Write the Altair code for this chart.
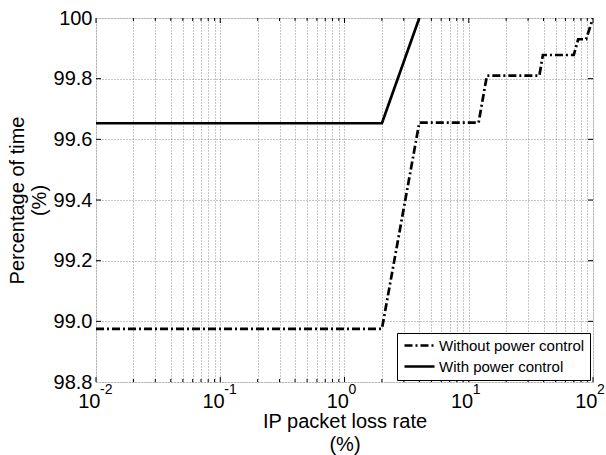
import altair as alt
import pandas as pd

FONT = "Liberation Sans"

# ---- data ----
series_names = ["Without power control", "With power control"]
x_without = [0.01, 2.0, 4.0, 12.0, 14.0, 37.0, 39.5, 70.0, 76.0, 88.0, 100.0]
y_without = [98.975, 98.975, 99.655, 99.655, 99.81, 99.81, 99.878, 99.878, 99.93, 99.93, 100.0]
x_with = [0.01, 2.0, 4.0]
y_with = [99.653, 99.653, 100.0]

major_x = [0.01, 0.1, 1, 10, 100]
exponents = ["-2", "-1", "0", "1", "2"]
minor_x = [0.02, 0.03, 0.04, 0.05, 0.06, 0.07, 0.08, 0.09,
           0.2, 0.3, 0.4, 0.5, 0.6, 0.7, 0.8, 0.9,
           2, 3, 4, 5, 6, 7, 8, 9,
           20, 30, 40, 50, 60, 70, 80, 90]
y_ticks = [98.8, 99.0, 99.2, 99.4, 99.6, 99.8, 100.0]
y_inner_ticks = [99.0, 99.2, 99.4, 99.6, 99.8]

rows = []
for i, (a, b) in enumerate(zip(x_without, y_without)):
    rows.append({"x": a, "y": b, "series": series_names[0], "i": i})
for i, (a, b) in enumerate(zip(x_with, y_with)):
    rows.append({"x": a, "y": b, "series": series_names[1], "i": i})
df = pd.DataFrame(rows)

W, H = 497, 364
x_scale = alt.Scale(type="log", domain=[0.01, 100], nice=False)
y_scale = alt.Scale(domain=[98.8, 100], nice=False, zero=False)

grid_dash = [1, 2]
grid_color = "#8c8c8c"

x_axis = alt.Axis(
    values=sorted(major_x + minor_x), grid=True, gridDash=grid_dash, gridColor=grid_color,
    gridWidth=1, ticks=False, domain=False,
    labelExpr="abs(log(datum.value)/LN10 - round(log(datum.value)/LN10)) < 1e-6 ? '10' : ''",
    labelFlush=False, labelOverlap=False, labelAlign="right", labelOffset=4,
    labelPadding=9, labelFontSize=20, labelColor="black", labelFont=FONT,
    title=["IP packet loss rate", "(%)"], titleFontSize=20, titleFontWeight="normal",
    titleFont=FONT, titleColor="black", titlePadding=0, titleLineHeight=23,
)
y_axis = alt.Axis(
    values=y_ticks, grid=True, gridDash=grid_dash, gridColor=grid_color, gridWidth=1,
    ticks=False, domain=False,
    labelExpr="datum.value == 100 ? '100' : format(datum.value, '.1f')",
    labelFlush=False, labelOverlap=False, labelPadding=4, labelFontSize=20,
    labelColor="black", labelFont=FONT,
    title=["Percentage of time", "(%)"], titleFontSize=20, titleFontWeight="normal",
    titleFont=FONT, titleColor="black", titlePadding=4, titleLineHeight=22,
)

X = lambda f: alt.X(f, scale=x_scale, axis=x_axis)
Y = lambda f: alt.Y(f, scale=y_scale, axis=y_axis)

lines = alt.Chart(df).mark_line(strokeWidth=2.7, color="black", clip=True).encode(
    x=X("x:Q"),
    y=Y("y:Q"),
    strokeDash=alt.StrokeDash(
        "series:N",
        scale=alt.Scale(domain=series_names, range=[[8, 3, 2, 3], [1, 0]]),
        legend=alt.Legend(
            title=None, orient="none", legendX=301, legendY=315,
            symbolType="M-1,0L5,0", symbolSize=100, symbolStrokeWidth=2.7,
            symbolStrokeColor="black", labelFontSize=15, labelFont=FONT,
            labelColor="black", labelOffset=22, padding=5, rowPadding=5,
            strokeColor="black", fillColor="white", cornerRadius=0,
        ),
    ),
    order=alt.Order("i:Q"),
)

exp_df = pd.DataFrame({"x": major_x, "e": exponents})
exp_text = alt.Chart(exp_df).mark_text(
    align="left", baseline="top", fontSize=14, dx=4, font=FONT, color="black"
).encode(
    x=X("x:Q"),
    y=alt.value(H + 1),
    text="e:N",
)

maj_df = pd.DataFrame({"x": major_x})
min_df = pd.DataFrame({"x": minor_x})
yt_df = pd.DataFrame({"y": y_inner_ticks})

def xticks(data, length):
    bottom = alt.Chart(data).mark_rule(color="black", strokeWidth=1).encode(
        x=X("x:Q"), y=alt.value(H), y2=alt.value(H - length))
    top = alt.Chart(data).mark_rule(color="black", strokeWidth=1).encode(
        x=X("x:Q"), y=alt.value(0), y2=alt.value(length))
    return [bottom, top]

ytick_left = alt.Chart(yt_df).mark_rule(color="black", strokeWidth=1).encode(
    y=Y("y:Q"), x=alt.value(0), x2=alt.value(5))
ytick_right = alt.Chart(yt_df).mark_rule(color="black", strokeWidth=1).encode(
    y=Y("y:Q"), x=alt.value(W), x2=alt.value(W - 5))

layers = [lines, exp_text] + xticks(maj_df, 5) + xticks(min_df, 3) + [ytick_left, ytick_right]

chart = alt.layer(*layers).properties(
    width=W, height=H,
    autosize=alt.AutoSizeParams(type="none"),
    padding={"left": 96, "top": 18, "right": 13, "bottom": 73},
    background="white",
).configure_view(stroke="#444444", strokeWidth=1).configure(font=FONT)

chart.save("out.html", embed_options={"renderer": "svg", "actions": False})
